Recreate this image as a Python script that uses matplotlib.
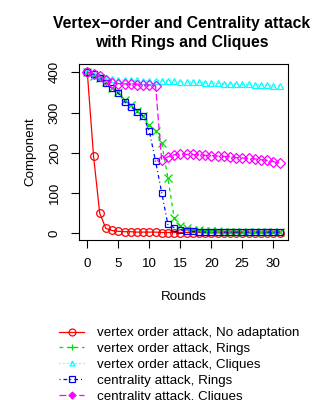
import matplotlib
matplotlib.use("Agg")
import matplotlib.pyplot as plt
from matplotlib.lines import Line2D

plt.rcParams['font.family'] = ['Liberation Sans', 'DejaVu Sans']

rounds = list(range(32))
vo_noadapt = [400, 193, 50, 12, 7, 5, 4, 4, 3, 3, 3, 3, 2, 2, 2, 2, 2, 2, 2, 1,
              1, 1, 1, 1, 1, 1, 1, 1, 1, 1, 1, 1]
vo_rings = [400, 392, 386, 375, 362, 350, 331, 318, 305, 292, 269, 254, 224, 137, 39, 19,
            12, 9, 7, 6, 5, 5, 4, 4, 4, 3, 3, 3, 3, 3, 3, 3]
vo_cliques = [400, 393, 388, 385, 383, 382, 381, 380, 380, 379, 379, 379, 379, 379, 378, 377,
              376, 376, 375, 374, 373, 373, 372, 371, 371, 370, 370, 369, 368, 368, 367, 366]
ce_rings = [400, 395, 387, 373, 360, 348, 327, 315, 302, 291, 254, 180, 101, 22, 14, 9,
            6, 5, 4, 3, 3, 3, 3, 3, 3, 3, 3, 3, 3, 3, 3, 3]
ce_cliques = [400, 396, 391, 381, 373, 372, 371, 370, 369, 368, 368, 367, 181, 190, 195, 198,
              196, 196, 195, 194, 193, 192, 191, 190, 188, 187, 186, 185, 183, 181, 178, 174]

labels = ["vertex order attack, No adaptation",
          "vertex order attack, Rings",
          "vertex order attack, Cliques",
          "centrality attack, Rings",
          "centrality attack, Cliques"]
colors = ['#FF0000', '#00DD00', '#00FFFF', '#0000FF', '#FF00FF']
dashes = [None, (3, 3), (0.8, 2.4), (0.8, 2.4, 3, 2.4), (5.5, 2.4)]
plot_markers = ['o', 'x', '^', 's', 'D']
plot_msize = [5.5, 5.5, 4.0, 5.0, 5.0]
leg_markers = ['o', '+', '^', 's', 'D']
leg_msize = [5.0, 5.0, 3.5, 4.5, 3.5]
leg_fill = [False, False, False, False, True]

series = [vo_noadapt, vo_rings, vo_cliques, ce_rings, ce_cliques]

fig = plt.figure(figsize=(3.2, 4.0), dpi=100)
ax = fig.add_axes([79/320, 1-240/400, (288-79)/320, (240-64)/400])

for y, c, d, m, ms in zip(series, colors, dashes, plot_markers, plot_msize):
    line, = ax.plot(rounds, y, color=c, lw=0.9, marker=m, markersize=ms,
                    markerfacecolor='none', markeredgecolor=c, markeredgewidth=0.9)
    if d is not None:
        line.set_dashes(d)

ax.set_xlim(-1.34, 32.37)
ax.set_ylim(-16.6, 420.6)
ax.set_xticks([0, 5, 10, 15, 20, 25, 30])
ax.set_yticks([0, 100, 200, 300, 400])
ax.tick_params(direction='out', length=6, width=0.8, labelsize=9.6, pad=7)
for lab in ax.get_yticklabels():
    lab.set_rotation(90)
    lab.set_va('center')
for s in ax.spines.values():
    s.set_linewidth(0.8)

ax.set_xlabel("Rounds", fontsize=9.6, labelpad=15)
ax.set_ylabel("Component", fontsize=9.6, labelpad=9)
fig.suptitle("Vertex\u2212order and Centrality attack\nwith Rings and Cliques",
             fontsize=11.3, fontweight='bold', x=182/320, y=1-16/400, va='top',
             linespacing=1.33)

handles = []
for c, d, m, ms, f in zip(colors, dashes, leg_markers, leg_msize, leg_fill):
    h = Line2D([0], [0], color=c, lw=0.9, marker=m, markersize=ms,
               markerfacecolor=c if f else 'none', markeredgecolor=c, markeredgewidth=0.9)
    if d is not None:
        h.set_dashes(d)
    handles.append(h)

fig.legend(handles, labels, loc='upper left', bbox_to_anchor=(59/320, 1-327/400),
           frameon=False, fontsize=9.6, handlelength=1.9, handletextpad=0.95,
           labelspacing=0.26, borderpad=0, borderaxespad=0)

fig.savefig("out.png", dpi=100)
